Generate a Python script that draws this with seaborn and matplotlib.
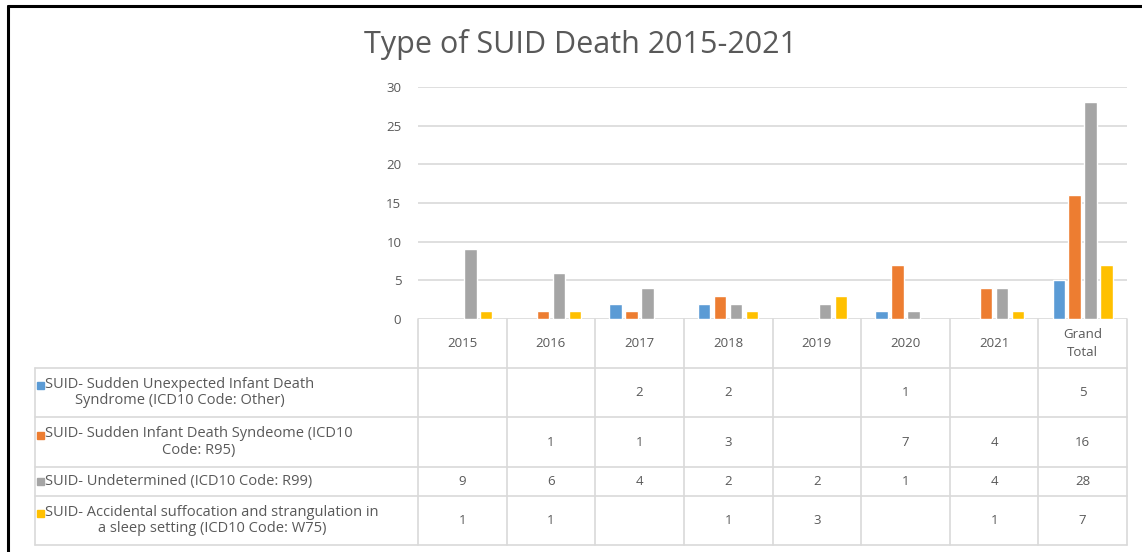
import numpy as np
import pandas as pd
import seaborn as sb
import matplotlib.pyplot as plt
import matplotlib.transforms as mtransforms
from matplotlib.patches import Rectangle

years = ['2015', '2016', '2017', '2018', '2019', '2020', '2021', 'Grand\nTotal']
suid_other = [np.nan, np.nan, 2, 2, np.nan, 1, np.nan, 5]
sids_r95 = [np.nan, 1, 1, 3, np.nan, 7, 4, 16]
undetermined = [9, 6, 4, 2, 2, 1, 4, 28]
asphyxia_w75 = [1, 1, np.nan, 1, 3, np.nan, 1, 7]

series_names = [
    'SUID- Sudden Unexpected Infant Death\nSyndrome (ICD10 Code: Other)',
    'SUID- Sudden Infant Death Syndeome (ICD10\nCode: R95)',
    'SUID- Undetermined (ICD10 Code: R99)',
    'SUID- Accidental suffocation and strangulation in\na sleep setting (ICD10 Code: W75)',
]
series_values = [suid_other, sids_r95, undetermined, asphyxia_w75]
colors = ['#5B9BD5', '#ED7D31', '#A5A5A5', '#FFC000']

df = pd.DataFrame({
    'year': np.tile(years, len(series_names)),
    'type': np.repeat(series_names, len(years)),
    'count': np.concatenate(series_values),
})

sb.set_style('white')
plt.rcParams['font.family'] = ['Open Sans', 'DejaVu Sans']
TXT = '#595959'
GRID = '#D9D9D9'

W, H = 1142, 552
fig = plt.figure(figsize=(W / 100, H / 100), dpi=100)
ax_l, ax_r, ax_t, ax_b = 418, 1127, 87, 319
ax = fig.add_axes([ax_l / W, 1 - ax_b / H, (ax_r - ax_l) / W, (ax_b - ax_t) / H])

sb.barplot(data=df, x='year', y='count', hue='type', order=years,
           hue_order=series_names, palette=colors, width=0.72, gap=0.22,
           errorbar=None, legend=False, ax=ax, saturation=1)

ax.set_xlim(-0.5, len(years) - 0.5)
ax.set_ylim(0, 30)
ax.set_yticks(range(0, 31, 5))
ax.set_xticks([])
ax.set_xlabel('')
ax.set_ylabel('')
ax.yaxis.grid(True, color=GRID, lw=1.2)
ax.set_axisbelow(True)
for s in ax.spines.values():
    s.set_visible(False)
ax.tick_params(axis='y', length=0, pad=12, labelsize=9.5, labelcolor=TXT)


def fx(px):
    return (px - ax_l) / (ax_r - ax_l)


def fy(py):
    return (ax_b - py) / (ax_b - ax_t)


# data table under the chart
rows_px = [319, 368, 417, 467, 496, 545]
rows = [fy(p) for p in rows_px]
blend = mtransforms.blended_transform_factory(ax.transData, ax.transAxes)
line_kw = dict(color=GRID, lw=1.2, clip_on=False)

for i in range(len(years) + 1):
    ax.plot([i - 0.5, i - 0.5], [rows[0], rows[-1]], transform=blend, **line_kw)
ax.plot([fx(35), fx(35)], [rows[1], rows[-1]], transform=ax.transAxes, **line_kw)
for r in rows[1:]:
    ax.plot([fx(35), 1], [r, r], transform=ax.transAxes, **line_kw)

# header row
for i, yr in enumerate(years):
    ax.text(i, (rows[0] + rows[1]) / 2, yr, transform=blend, ha='center',
            va='center', fontsize=9.5, color=TXT, linespacing=1.5)

# legend column and values
for k, (name, vals, c) in enumerate(zip(series_names, series_values, colors)):
    y_mid = (rows[k + 1] + rows[k + 2]) / 2
    two_lines = '\n' in name
    first_line_y = y_mid + (fy(0) - fy(7) if two_lines else 0)
    ax.add_patch(Rectangle((fx(37), first_line_y - (fy(0) - fy(3.5))),
                           fx(44) - fx(37), fy(0) - fy(7),
                           transform=ax.transAxes, color=c, clip_on=False))
    ax.text(fx(45), y_mid, name, transform=ax.transAxes, ha='left', va='center',
            multialignment='center', fontsize=10.5, color=TXT, linespacing=1.1)
    for i, v in enumerate(vals):
        if not np.isnan(v):
            ax.text(i, y_mid, f'{int(v)}', transform=blend, ha='center',
                    va='center', fontsize=9.5, color=TXT)

fig.text(580 / W, 1 - 45 / H, 'Type of SUID Death 2015-2021', ha='center',
         va='center', fontsize=22, color=TXT)

# frame of the screenshot
fig.add_artist(plt.Line2D([7.5 / W, 1], [1 - 5.5 / H, 1 - 5.5 / H], color='black', lw=2.2))
fig.add_artist(plt.Line2D([7.5 / W, 7.5 / W], [0, 1 - 5.5 / H], color='black', lw=2.2))

fig.savefig('out.png', dpi=100)
plt.close()
